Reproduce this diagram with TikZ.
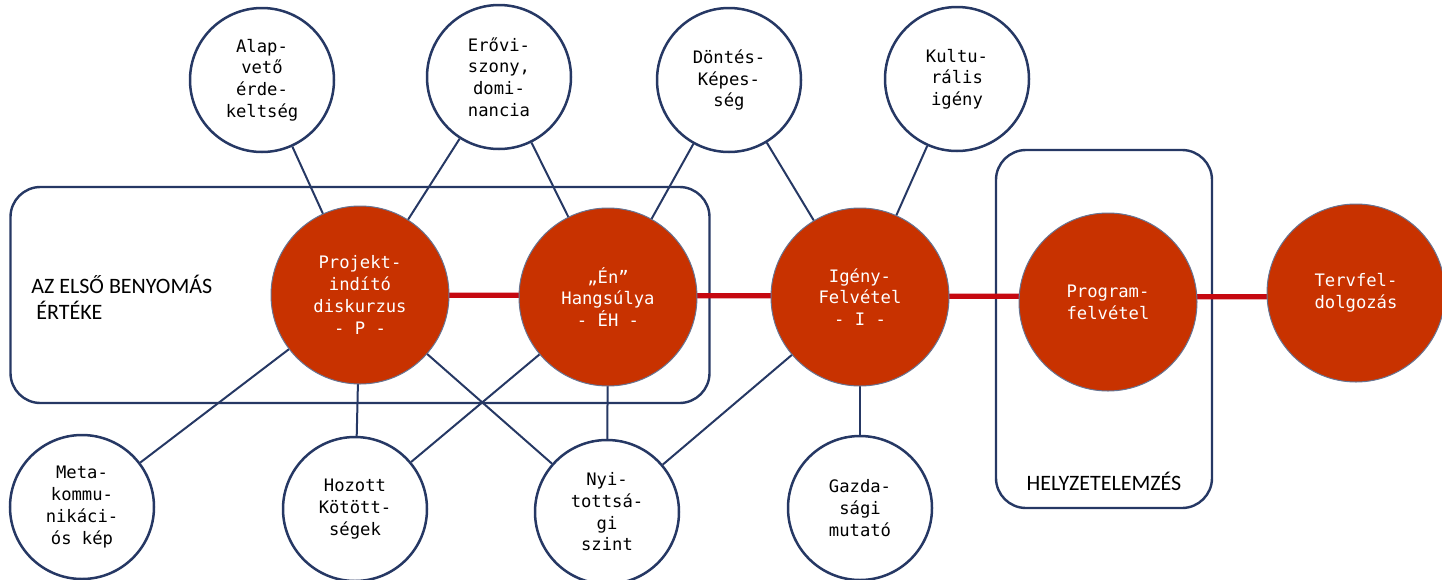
\documentclass[tikz,border=0pt]{standalone}
\usepackage{fontspec}
\newfontfamily\consfont{DejaVu Sans Mono}
\newfontfamily\labfont{Carlito}
\definecolor{navy}{RGB}{38,56,100}
\definecolor{fillred}{RGB}{200,50,0}
\definecolor{linered}{RGB}{198,8,16}
\begin{document}
\begin{tikzpicture}[x=0.5pt,y=-0.5pt,
  bigc/.style={circle,fill=fillred,draw=navy!70,line width=0.5pt,minimum size=89pt,inner sep=0pt,
    text=white,font=\consfont\fontsize{8.6}{10.85}\selectfont,align=center},
  smallc/.style={circle,fill=white,draw=navy,line width=1.25pt,minimum size=72pt,inner sep=0pt,
    text=black,font=\consfont\fontsize{8.6}{10.85}\selectfont,align=center},
  conn/.style={draw=navy,line width=1pt},
  grp/.style={draw=navy,line width=1.2pt,rounded corners=15pt},
  lab/.style={font=\labfont\fontsize{11}{13}\selectfont,align=left,inner sep=0pt,text=black}]
\useasboundingbox (0,0) rectangle (1442,579);
% group boxes
\node[grp,minimum width=349.5pt,minimum height=108pt,inner sep=0pt] (g1) at (360,295) {};
\node[grp,minimum width=108pt,minimum height=179pt,inner sep=0pt] (g2) at (1104,329) {};
\node[lab,anchor=west] (t1) at (31,297) {AZ ELSŐ BENYOMÁS\\\ ÉRTÉKE};
\node[lab] (t2) at (1104,481) {HELYZETELEMZÉS};
% coordinates of circles
\coordinate (cP) at (360,295);
\coordinate (cEH) at (608,297);
\coordinate (cI) at (860,297);
\coordinate (cPr) at (1108,302);
\coordinate (cT) at (1356,293);
% small circles
\node[smallc] (alap) at (262,80) {Alap-\\vető\\érde-\\keltség};
\node[smallc] (ero) at (499,77) {Erővi-\\szony,\\domi-\\nancia};
\node[smallc] (dont) at (729,80) {Döntés-\\Képes-\\ség};
\node[smallc] (kult) at (957,79) {Kultu-\\rális\\igény};
\node[smallc] (meta) at (82,507) {Meta-\\kommu-\\nikáci-\\ós kép};
\node[smallc] (hoz) at (355,509) {Hozott\\Kötött-\\ségek};
\node[smallc] (nyi) at (607,512) {Nyi-\\tottsá-\\gi\\szint};
\node[smallc] (gaz) at (860,508) {Gazda-\\sági\\mutató};
% connectors (behind big circles)
\draw[conn] (alap) -- (cP);
\draw[conn] (ero) -- (cP);
\draw[conn] (ero) -- (cEH);
\draw[conn] (dont) -- (cEH);
\draw[conn] (dont) -- (cI);
\draw[conn] (kult) -- (cI);
\draw[conn] (meta) -- (cP);
\draw[conn] (hoz) -- (cP);
\draw[conn] (nyi) -- (cP);
\draw[conn] (hoz) -- (cEH);
\draw[conn] (nyi) -- (cEH);
\draw[conn] (nyi) -- (cI);
\draw[conn] (gaz) -- (cI);
\draw[draw=linered,line width=2.6pt] (cP) -- (cT |- cEH);
% big circles
\node[bigc] (P) at (cP) {Projekt-\\indító\\diskurzus\\- P -};
\node[bigc] (EH) at (cEH) {„Én”\\Hangsúlya\\- ÉH -};
\node[bigc] (I) at (cI) {Igény-\\Felvétel\\- I -};
\node[bigc] (Pr) at (cPr) {Program-\\felvétel};
\node[bigc] (T) at (cT) {Tervfel-\\dolgozás};
\end{tikzpicture}
\end{document}
